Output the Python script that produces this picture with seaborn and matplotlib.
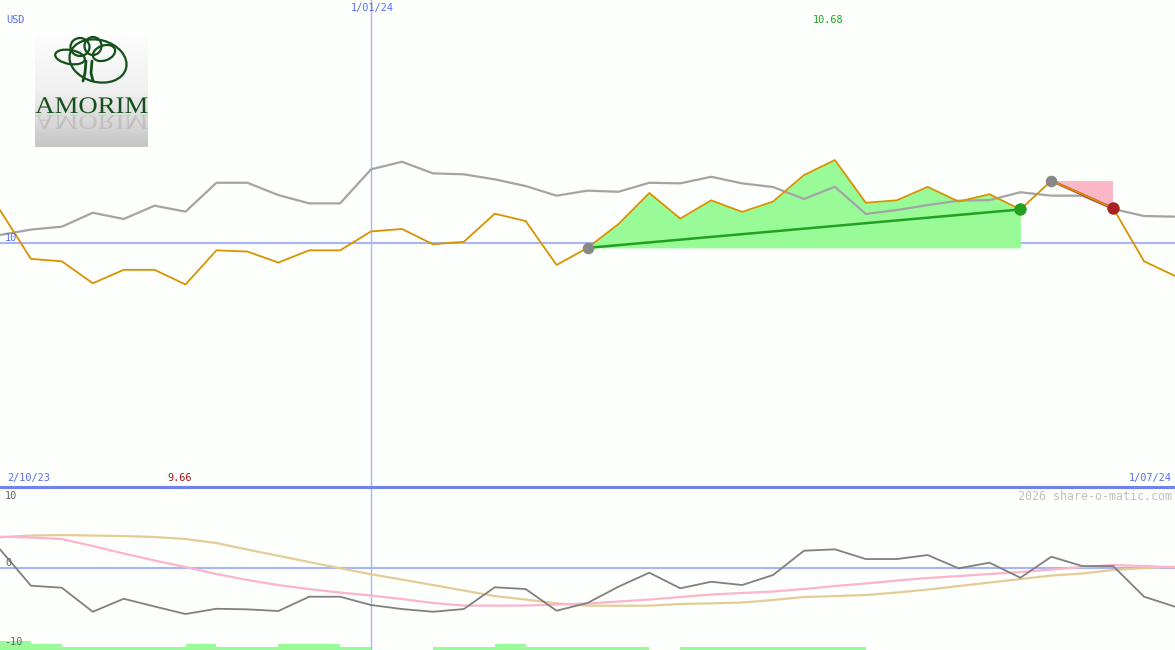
import numpy as np
import pandas as pd
import matplotlib
matplotlib.use("Agg")
import matplotlib.pyplot as plt
import seaborn as sns
from matplotlib.patches import Ellipse, Polygon, PathPatch
from matplotlib.textpath import TextPath
from matplotlib.font_manager import FontProperties
from matplotlib import transforms

# weekly closes (USD) and the grey comparison line
price = [10.27, 9.87, 9.85, 9.67, 9.78, 9.78, 9.66, 9.94, 9.93, 9.84,
         9.94, 9.94, 10.095, 10.115, 9.99, 10.01, 10.24, 10.18, 9.82, 9.96,
         10.155, 10.41, 10.20, 10.35, 10.255, 10.34, 10.557, 10.68, 10.33, 10.35,
         10.46, 10.34, 10.40, 10.275, 10.51, 10.40, 10.285, 9.85, 9.73]
compare = [10.066, 10.11, 10.134, 10.248, 10.197, 10.306, 10.257, 10.494, 10.494, 10.393,
           10.325, 10.325, 10.604, 10.666, 10.571, 10.563, 10.522, 10.467, 10.388, 10.429,
           10.42, 10.494, 10.489, 10.543, 10.489, 10.459, 10.361, 10.461, 10.238, 10.27,
           10.311, 10.347, 10.352, 10.416, 10.388, 10.388, 10.279, 10.221, 10.216]

# lower panel: oscillator and its two averages
osc = [2.56, -2.42, -2.70, -5.99, -4.21, -5.27, -6.30, -5.58, -5.66, -5.89,
       -3.93, -3.93, -5.07, -5.62, -5.99, -5.62, -2.64, -2.88, -5.85, -4.79,
       -2.56, -0.64, -2.78, -1.88, -2.33, -0.96, 2.37, 2.56, 1.23, 1.23,
       1.78, -0.04, 0.73, -1.33, 1.55, 0.27, 0.27, -3.93, -5.30]
osc_fast = [4.29, 4.18, 3.97, 3.01, 1.99, 1.03, 0.14, -0.82, -1.64, -2.33,
            -2.88, -3.36, -3.77, -4.25, -4.79, -5.14, -5.16, -5.14, -5.00, -4.86,
            -4.59, -4.32, -3.97, -3.63, -3.42, -3.22, -2.88, -2.47, -2.12, -1.71,
            -1.37, -1.10, -0.82, -0.55, -0.21, 0.14, 0.41, 0.27, 0.10]
osc_slow = [4.21, 4.45, 4.52, 4.45, 4.38, 4.25, 3.97, 3.42, 2.53, 1.68,
            0.82, -0.03, -0.86, -1.58, -2.33, -3.08, -3.84, -4.32, -4.84, -5.16,
            -5.16, -5.16, -4.93, -4.84, -4.73, -4.38, -3.97, -3.84, -3.70, -3.36,
            -2.95, -2.47, -1.99, -1.51, -1.03, -0.75, -0.27, 0.00, 0.18]
# green blocks along the bottom, one per week
signal = [3, 2, 1, 1, 1, 1, 2, 1, 1, 2, 2, 1, 0, 0, 1, 1, 2, 1, 1, 1,
          1, 0, 1, 1, 1, 1, 1, 1, 0, 0, 0, 0, 0, 0, 0, 0, 0, 0]

start_i, buy_i, top_i, sell_i = 19, 33, 34, 36
year_i = 12
labels = ["2/10/23", "1/01/24", "1/07/24"]

df = pd.DataFrame({"week": np.arange(len(price)), "price": price, "compare": compare,
                   "osc": osc, "fast": osc_fast, "slow": osc_slow})

sns.set_style("white")
plt.rcParams['font.family'] = ['DejaVu Sans Mono']
bg = "#fcfffc"
W, H = 1175, 650
fig = plt.figure(figsize=(W / 100, H / 100), dpi=100, facecolor=bg)

ax = fig.add_axes([0, 163 / H, 1, 487 / H])
ax2 = fig.add_axes([0, 0, 1, 163 / H])
for a in (ax, ax2):
    a.set_facecolor(bg)
    a.set_xlim(0, len(price) - 1)
    a.axis("off")
ax.set_ylim(8.0, 11.992)
ax2.set_ylim(-11.23, 11.1)

lblue = "#a8b4f4"
ax.axhline(10, color=lblue, lw=1.5, zorder=1)
ax.axvline(year_i, color=lblue, lw=1, zorder=1)
ax2.axvline(year_i, color=lblue, lw=1, zorder=1)
ax2.axhline(0, color=lblue, lw=1.5, zorder=1)

# winning run shading
seg = df.iloc[start_i:buy_i + 1]
ax.fill_between(seg["week"], seg["price"], price[start_i], color="#98fb98", lw=0, zorder=2)
ax.add_patch(Polygon([(top_i, price[top_i]), (sell_i, price[top_i]), (sell_i, price[sell_i])],
                     closed=True, color="#fbb6c8", lw=0, zorder=2))

sns.lineplot(data=df, x="week", y="compare", ax=ax, color="#a4a4a4", lw=1.6, zorder=3)
ax.plot([start_i, buy_i], [price[start_i], price[buy_i]], color="#22a022", lw=1.8, zorder=4)
ax.plot([top_i, sell_i], [price[top_i], price[sell_i]], color="#a82020", lw=1.8, zorder=4)
sns.lineplot(data=df, x="week", y="price", ax=ax, color="#d99200", lw=1.3, zorder=5)
ax.scatter([start_i, top_i], [price[start_i], price[top_i]], s=70, color="#888888", zorder=6, lw=0)
ax.scatter([buy_i], [price[buy_i]], s=80, color="#22a022", zorder=6, lw=0)
ax.scatter([sell_i], [price[sell_i]], s=80, color="#a82020", zorder=6, lw=0)
ax.set_xlabel("")
ax.set_ylabel("")

# lower panel
unit = 9 / 7.3 / 3
ax2.bar(np.arange(len(signal)), np.array(signal) * unit, bottom=-11.23, width=1,
        align="edge", color="#98fb98", lw=0, zorder=1)
sns.lineplot(data=df, x="week", y="slow", ax=ax2, color="#e4cc98", lw=1.6, zorder=2)
sns.lineplot(data=df, x="week", y="fast", ax=ax2, color="#fcb4cc", lw=1.6, zorder=3)
sns.lineplot(data=df, x="week", y="osc", ax=ax2, color="#808080", lw=1.3, zorder=4)
ax2.set_xlabel("")
ax2.set_ylabel("")

# panel separator
fig.add_artist(plt.Line2D([0, 1], [1 - 487 / H] * 2, color="#7282ec", lw=2.2))


def put(x, y, s, color, ha="left", size=7.4):
    fig.text(x / W, 1 - y / H, s, color=color, ha=ha, va="center", fontsize=size)


blue = "#5a6cf0"
put(6, 20, "USD", blue)
put(372, 8, labels[1], blue, ha="center")
put(828, 20, "%.2f" % max(price), "#22a022", ha="center")
put(5, 238, "10", blue)
put(7, 478, labels[0], blue)
put(180, 478, "%.2f" % min(price), "#a01818", ha="center")
put(1172, 478, labels[2], blue, ha="right")
put(1172, 496, "2026 share-o-matic.com", "#c0c0c0", ha="right", size=8.4)
put(5, 496, "10", "#666666")
put(5, 563, "0", "#666666")
put(4, 642, "-10", "#666666")

# company logo
lg = fig.add_axes([35 / W, 1 - 147 / H, 113 / W, 112 / H])
lg.axis("off")
grad = np.linspace(0, 1, 100)[:, None] * np.ones((1, 10))
lg.imshow(grad, cmap=matplotlib.colors.LinearSegmentedColormap.from_list("g", ["#fdfdfd", "#f0f0f0", "#c6c6c6"]),
          extent=[35, 148, 147, 35], aspect="auto")
lg.set_xlim(35, 148)
lg.set_ylim(147, 35)
dg = "#14501c"
for cx, cy, w, h, ang in [(98, 61, 58, 42, 15), (70, 57, 30, 14, 10), (80, 47, 19, 18, 0),
                          (93, 46, 17, 18, 0), (104, 53, 23, 15, -20)]:
    lg.add_patch(Ellipse((cx, cy), w, h, angle=ang, fill=False, ec=dg, lw=1.6))
lg.plot([86, 85, 83], [61, 73, 81], color=dg, lw=2)
lg.plot([92, 91, 93], [61, 73, 81], color=dg, lw=2)

fp = FontProperties(family="Liberation Serif")
tp = TextPath((0, 0), "AMORIM", prop=fp, size=24)
bb = tp.get_extents()
sx = 112 / bb.width
main = transforms.Affine2D().translate(-bb.x0, 0).scale(sx, -16 / bb.height).translate(35.5, 113)
lg.add_patch(PathPatch(main.transform_path(tp), color=dg, lw=0))
refl = transforms.Affine2D().translate(-bb.x0, 0).scale(sx, 14 / bb.height).translate(35.5, 115)
lg.add_patch(PathPatch(refl.transform_path(tp), color="#8a8a8a", alpha=0.3, lw=0))

fig.savefig("out.png", dpi=100, facecolor=bg)
